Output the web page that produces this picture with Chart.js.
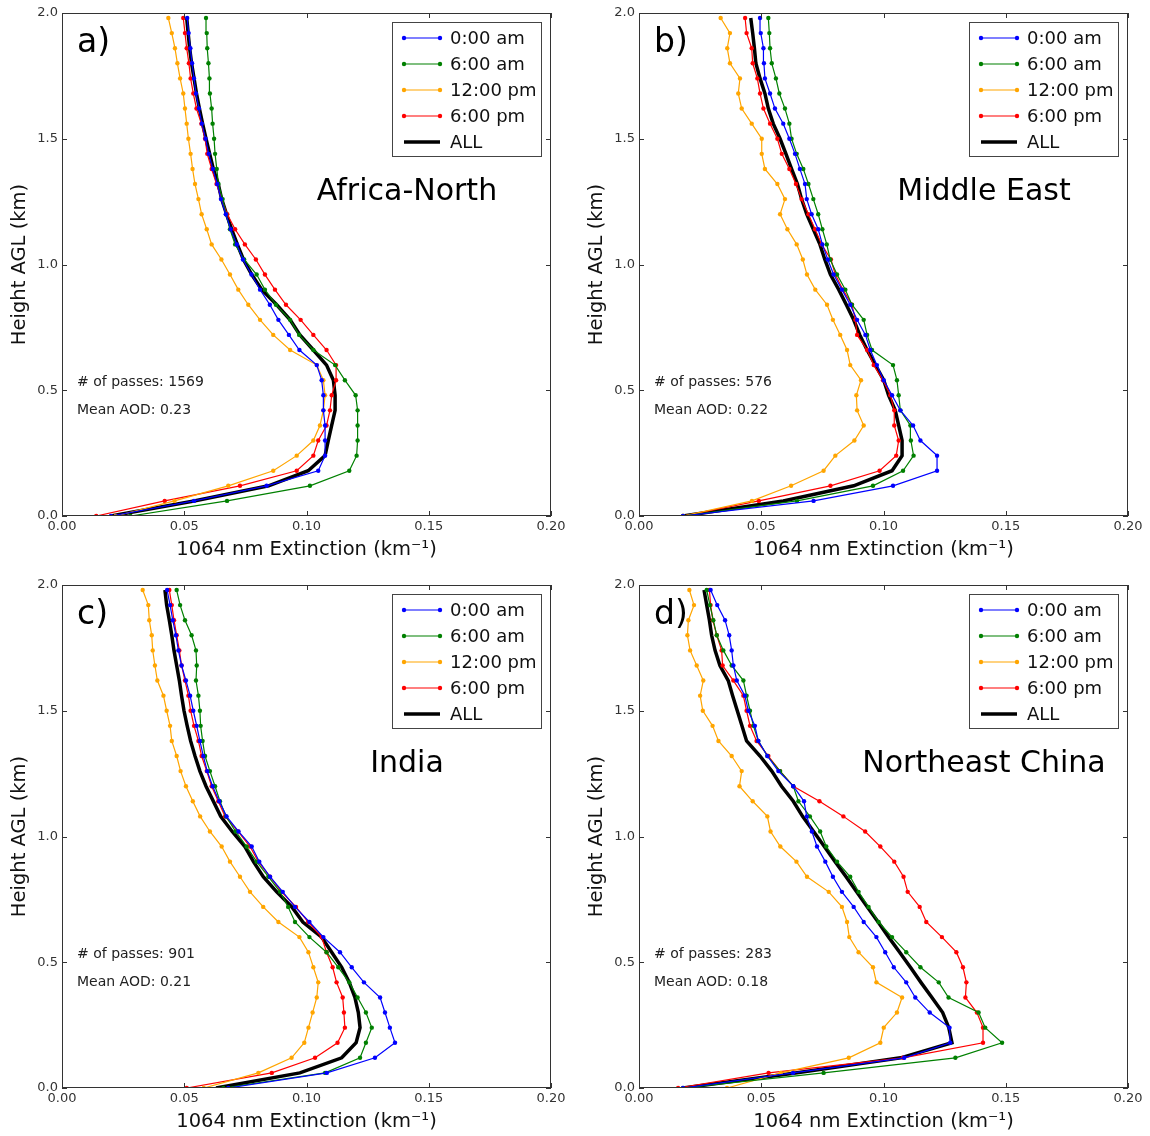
<!DOCTYPE html>
<html>
<head>
<meta charset="utf-8">
<script src="https://cdn.jsdelivr.net/npm/chart.js@4.4.0/dist/chart.umd.min.js"></script>
<style>
  body { margin: 0; background: #fff; width: 1150px; height: 1136px; overflow: hidden; position: relative; }
  canvas { position: absolute; }
</style>
</head>
<body>
<canvas id="pa" width="575" height="564" style="left:0;top:0"></canvas>
<canvas id="pb" width="575" height="564" style="left:577px;top:0"></canvas>
<canvas id="pc" width="575" height="564" style="left:0;top:572px"></canvas>
<canvas id="pd" width="575" height="564" style="left:577px;top:572px"></canvas>
<script>
// height bins (km AGL)
const heights = [0.00, 0.06, 0.12, 0.18, 0.24, 0.30, 0.36, 0.42, 0.48, 0.54, 0.60, 0.66, 0.72, 0.78, 0.84, 0.90, 0.96,
  1.02, 1.08, 1.14, 1.20, 1.26, 1.32, 1.38, 1.44, 1.50, 1.56, 1.62, 1.68, 1.74, 1.80, 1.86, 1.92, 1.98];

const seriesLabels = ['0:00 am', '6:00 am', '12:00 pm', '6:00 pm', 'ALL'];
const panelLetters = ['a)', 'b)', 'c)', 'd)'];
const regionNames = ['Africa-North', 'Middle East', 'India', 'Northeast China'];
const passCounts = [1569, 576, 901, 283];
const meanAod = ['0.23', '0.22', '0.21', '0.18'];

// a) Africa-North, extinction (km-1) per height bin
const africa0am = [0.020, 0.054, 0.0837, 0.1048, 0.1076, 0.1076, 0.1076, 0.1069, 0.1069, 0.1062, 0.1042, 0.0971, 0.0928, 0.0885, 0.085, 0.081, 0.0775,
  0.074, 0.0715, 0.069, 0.067, 0.065, 0.0635, 0.0617, 0.060, 0.0587, 0.0572, 0.056, 0.0548, 0.054, 0.0532, 0.0525, 0.0518, 0.0512];
const africa6am = [0.028, 0.0675, 0.1014, 0.1175, 0.1205, 0.1209, 0.1209, 0.1209, 0.1201, 0.1157, 0.1117, 0.1028, 0.097, 0.0933, 0.0875, 0.083, 0.0796,
  0.0745, 0.0708, 0.0687, 0.0671, 0.0657, 0.064, 0.0633, 0.0626, 0.0622, 0.0616, 0.0612, 0.0605, 0.0603, 0.0599, 0.0594, 0.0592, 0.0589];
const africa12pm = [0.022, 0.046, 0.068, 0.0864, 0.096, 0.1028, 0.1055, 0.1069, 0.1076, 0.1069, 0.1042, 0.0933, 0.0864, 0.081, 0.0762, 0.0721, 0.0687,
  0.0652, 0.0612, 0.0592, 0.0571, 0.0558, 0.0544, 0.0534, 0.0526, 0.0517, 0.051, 0.0503, 0.0496, 0.0483, 0.0472, 0.0462, 0.0449, 0.0435];
const africa6pm = [0.014, 0.042, 0.0728, 0.096, 0.1028, 0.1048, 0.1082, 0.1096, 0.1103, 0.1121, 0.1121, 0.1082, 0.1028, 0.0976, 0.0916, 0.0871, 0.083,
  0.0793, 0.0748, 0.0708, 0.0676, 0.0653, 0.0632, 0.0612, 0.0594, 0.0585, 0.057, 0.055, 0.0537, 0.0526, 0.0519, 0.051, 0.0503, 0.0496];
const africaAll = [0.020, 0.054, 0.0845, 0.1007, 0.1076, 0.1089, 0.1103, 0.1117, 0.1117, 0.111, 0.1082, 0.1028, 0.0973, 0.0933, 0.0878, 0.0817, 0.0776,
  0.0742, 0.0717, 0.0694, 0.0673, 0.0653, 0.0639, 0.0619, 0.0604, 0.0589, 0.0575, 0.0562, 0.055, 0.054, 0.053, 0.0522, 0.0516, 0.051];

// b) Middle East
const mideast0am = [0.018, 0.0714, 0.1039, 0.1219, 0.1219, 0.1151, 0.1121, 0.1069, 0.1035, 0.1001, 0.0973, 0.0946, 0.0926, 0.0892, 0.0864, 0.083, 0.0796,
  0.0772, 0.075, 0.0733, 0.0706, 0.0686, 0.0679, 0.0658, 0.0638, 0.0615, 0.059, 0.0556, 0.0536, 0.0515, 0.0511, 0.0509, 0.0498, 0.0495];
const mideast6am = [0.018, 0.0646, 0.0957, 0.108, 0.1123, 0.1112, 0.111, 0.1069, 0.1062, 0.1055, 0.1039, 0.0953, 0.0933, 0.0919, 0.0871, 0.0844, 0.081,
  0.0782, 0.0768, 0.075, 0.0733, 0.0713, 0.0693, 0.0672, 0.0645, 0.0624, 0.0615, 0.0597, 0.0574, 0.056, 0.0543, 0.0536, 0.0533, 0.0529];
const mideast12pm = [0.018, 0.0462, 0.0622, 0.0755, 0.0803, 0.0881, 0.0919, 0.0892, 0.0889, 0.0908, 0.0864, 0.0851, 0.0823, 0.0793, 0.0769, 0.0721, 0.0687,
  0.067, 0.0645, 0.0607, 0.0577, 0.0597, 0.0566, 0.0515, 0.0502, 0.0502, 0.0461, 0.042, 0.0406, 0.0413, 0.0372, 0.0361, 0.0372, 0.0334];
const mideast6pm = [0.018, 0.049, 0.0783, 0.0984, 0.1052, 0.1062, 0.1044, 0.1044, 0.1028, 0.0998, 0.096, 0.0933, 0.0892, 0.0885, 0.0871, 0.0834, 0.0803,
  0.0785, 0.0747, 0.072, 0.0693, 0.0665, 0.0642, 0.0615, 0.0584, 0.0566, 0.0536, 0.0509, 0.0495, 0.0484, 0.0465, 0.0461, 0.044, 0.0434];
const mideastAll = [0.018, 0.059, 0.0878, 0.1035, 0.1076, 0.1076, 0.1062, 0.1048, 0.1021, 0.1001, 0.0967, 0.0933, 0.0903, 0.0878, 0.0848, 0.0817, 0.0783,
  0.076, 0.074, 0.0713, 0.0686, 0.0665, 0.0648, 0.0624, 0.0601, 0.0577, 0.0549, 0.0529, 0.0515, 0.0495, 0.0478, 0.0472, 0.0465, 0.0457];

// c) India
const india0am = [0.068, 0.1083, 0.128, 0.1362, 0.1341, 0.1321, 0.1301, 0.1235, 0.1185, 0.1137, 0.1069, 0.1012, 0.0953, 0.0903, 0.0851, 0.0807, 0.0776,
  0.0722, 0.0673, 0.0643, 0.0616, 0.0594, 0.0578, 0.0564, 0.0551, 0.0537, 0.0524, 0.0507, 0.0489, 0.0476, 0.0466, 0.0453, 0.0442, 0.043];
const india6am = [0.066, 0.1076, 0.1219, 0.1243, 0.1267, 0.1243, 0.1209, 0.1175, 0.113, 0.1082, 0.1012, 0.0953, 0.0925, 0.0892, 0.0844, 0.0796, 0.0755,
  0.071, 0.0671, 0.0646, 0.0626, 0.0605, 0.0585, 0.0575, 0.0567, 0.0564, 0.0558, 0.0548, 0.0551, 0.0548, 0.053, 0.0503, 0.0483, 0.0469];
const india12pm = [0.058, 0.0803, 0.0939, 0.0991, 0.1008, 0.1025, 0.1042, 0.1048, 0.1028, 0.1008, 0.0971, 0.0885, 0.0823, 0.0769, 0.0728, 0.0687, 0.0653,
  0.0605, 0.0565, 0.0535, 0.0507, 0.0485, 0.0469, 0.0449, 0.0442, 0.0428, 0.0415, 0.039, 0.038, 0.0371, 0.0367, 0.0357, 0.0353, 0.033];
const india6pm = [0.051, 0.0858, 0.1035, 0.1127, 0.1157, 0.1153, 0.1148, 0.1123, 0.1107, 0.1082, 0.1062, 0.1007, 0.0957, 0.0898, 0.0851, 0.0803, 0.0769,
  0.072, 0.0667, 0.0639, 0.0612, 0.0592, 0.0571, 0.0558, 0.054, 0.0526, 0.0517, 0.0503, 0.0489, 0.048, 0.0469, 0.0458, 0.0449, 0.0439];
const indiaAll = [0.063, 0.0973, 0.1144, 0.1203, 0.1219, 0.1212, 0.1198, 0.1175, 0.1144, 0.1103, 0.1062, 0.0985, 0.094, 0.0878, 0.0823, 0.0783, 0.0748,
  0.0696, 0.0649, 0.0619, 0.0589, 0.0564, 0.0544, 0.0526, 0.0512, 0.0499, 0.0489, 0.048, 0.0469, 0.0458, 0.0449, 0.0439, 0.0428, 0.0421];

// d) Northeast China
const china0am = [0.018, 0.063, 0.1085, 0.1273, 0.127, 0.1189, 0.113, 0.1093, 0.1042, 0.1007, 0.0971, 0.0919, 0.0878, 0.083, 0.0793, 0.0762, 0.0728,
  0.0707, 0.0686, 0.0675, 0.0631, 0.057, 0.0525, 0.0488, 0.0474, 0.0447, 0.0433, 0.040, 0.0386, 0.0379, 0.0369, 0.0352, 0.032, 0.0293];
const china6am = [0.018, 0.0755, 0.1294, 0.1485, 0.1416, 0.1389, 0.1266, 0.1226, 0.1151, 0.1093, 0.1035, 0.098, 0.0939, 0.0898, 0.0864, 0.081, 0.0766,
  0.0741, 0.0699, 0.0652, 0.0631, 0.0577, 0.0525, 0.0488, 0.0468, 0.0454, 0.044, 0.0427, 0.0379, 0.0345, 0.0318, 0.0304, 0.029, 0.0277];
const china12pm = [0.036, 0.058, 0.0858, 0.0987, 0.1001, 0.1055, 0.1076, 0.0971, 0.0957, 0.0898, 0.086, 0.0851, 0.083, 0.0776, 0.0687, 0.0644, 0.0578,
  0.0538, 0.0525, 0.0465, 0.0411, 0.042, 0.0379, 0.0325, 0.0301, 0.0261, 0.025, 0.0263, 0.0236, 0.0209, 0.0198, 0.0202, 0.0225, 0.0206];
const china6pm = [0.016, 0.053, 0.108, 0.1407, 0.1407, 0.1382, 0.1335, 0.1339, 0.1325, 0.1298, 0.1239, 0.1175, 0.1148, 0.1099, 0.1082, 0.1044, 0.0987,
  0.0925, 0.0836, 0.0738, 0.0631, 0.0577, 0.0529, 0.0481, 0.0454, 0.044, 0.0427, 0.0386, 0.0342, 0.0338, 0.0318, 0.0302, 0.0293, 0.0288];
const chinaAll = [0.018, 0.064, 0.107, 0.128, 0.1267, 0.1242, 0.1198, 0.1153, 0.111, 0.1066, 0.1021, 0.0978, 0.0934, 0.089, 0.0847, 0.0802, 0.0758,
  0.0714, 0.0669, 0.0631, 0.0583, 0.0543, 0.0495, 0.044, 0.0421, 0.0402, 0.0383, 0.0365, 0.0331, 0.0311, 0.0297, 0.0288, 0.0277, 0.0266];

const xTicks = ['0.00', '0.05', '0.10', '0.15', '0.20'];
const yTicks = ['0.0', '0.5', '1.0', '1.5', '2.0'];

const colors = ['#0000ff', '#008000', '#ffa500', '#ff0000', '#000000'];
const FONT = '"DejaVu Sans", sans-serif';

const panelData = [
  [africa0am, africa6am, africa12pm, africa6pm, africaAll],
  [mideast0am, mideast6am, mideast12pm, mideast6pm, mideastAll],
  [india0am, india6am, india12pm, india6pm, indiaAll],
  [china0am, china6am, china12pm, china6pm, chinaAll]
];

// frame, inward ticks, labels and legend drawn on top of the plot
const panelDecor = {
  id: 'panelDecor',
  afterDatasetsDraw(chart, args, opts) {
    const { ctx, chartArea: a, scales: { x, y } } = chart;
    ctx.save();
    ctx.strokeStyle = '#333';
    ctx.lineWidth = 1;
    ctx.strokeRect(a.left + 0.5, a.top + 0.5, a.width - 1, a.height - 1);
    ctx.beginPath();
    x.ticks.forEach(t => {
      const px = Math.round(x.getPixelForValue(t.value)) + 0.5;
      ctx.moveTo(px, a.bottom); ctx.lineTo(px, a.bottom - 5);
      ctx.moveTo(px, a.top); ctx.lineTo(px, a.top + 5);
    });
    y.ticks.forEach(t => {
      const py = Math.round(y.getPixelForValue(t.value)) + 0.5;
      ctx.moveTo(a.left, py); ctx.lineTo(a.left + 5, py);
      ctx.moveTo(a.right, py); ctx.lineTo(a.right - 5, py);
    });
    ctx.stroke();

    // panel letter and region name
    ctx.fillStyle = '#000';
    ctx.textBaseline = 'middle';
    ctx.textAlign = 'left';
    ctx.font = '33px ' + FONT;
    ctx.fillText(opts.letter, a.left + 15, a.top + 30);
    ctx.textAlign = 'center';
    ctx.font = '30px ' + FONT;
    ctx.fillText(opts.region, a.left + 345, a.top + 179);
    ctx.textAlign = 'left';
    ctx.font = '14px ' + FONT;
    ctx.fillStyle = '#222';
    ctx.fillText('# of passes: ' + opts.passes, a.left + 15, a.top + 369);
    ctx.fillText('Mean AOD: ' + opts.aod, a.left + 15, a.top + 397);

    // legend
    const bx = a.right - 159, by = a.top + 9;
    ctx.fillStyle = '#fff';
    ctx.fillRect(bx, by, 149, 134);
    ctx.strokeStyle = '#444';
    ctx.strokeRect(bx + 0.5, by + 0.5, 149, 134);
    chart.data.datasets.forEach((ds, i) => {
      const ly = by + 16 + 26 * i;
      const x0 = a.right - 147, x1 = a.right - 111;
      ctx.strokeStyle = ds.borderColor;
      ctx.lineWidth = ds.borderWidth;
      ctx.beginPath(); ctx.moveTo(x0, ly); ctx.lineTo(x1, ly); ctx.stroke();
      if (ds.pointRadius > 0) {
        ctx.fillStyle = ds.borderColor;
        [x0, x1].forEach(px => { ctx.beginPath(); ctx.arc(px, ly, 2.2, 0, Math.PI * 2); ctx.fill(); });
      }
      ctx.fillStyle = '#111';
      ctx.font = '18px ' + FONT;
      ctx.fillText(ds.label, a.right - 101, ly + 1);
    });
    ctx.restore();
  }
};

function makePanel(id, p) {
  const datasets = panelData[p].map((vals, s) => ({
    label: seriesLabels[s],
    data: vals.map((v, i) => ({ x: v, y: heights[i] })),
    borderColor: colors[s],
    backgroundColor: colors[s],
    borderWidth: s === 4 ? 3.5 : 1.2,
    pointRadius: s === 4 ? 0 : 2.2,
    pointBorderWidth: 0,
    tension: 0
  }));
  new Chart(document.getElementById(id), {
    type: 'line',
    data: { datasets },
    plugins: [panelDecor],
    options: {
      responsive: false,
      animation: false,
      layout: { padding: { top: 13, right: 24, left: 0, bottom: 0 } },
      plugins: {
        legend: { display: false },
        tooltip: { enabled: false },
        panelDecor: { letter: panelLetters[p], region: regionNames[p], passes: passCounts[p], aod: meanAod[p] }
      },
      scales: {
        x: {
          type: 'linear', min: 0, max: 0.2,
          grid: { display: false, drawTicks: false },
          border: { display: false },
          afterFit: s => { s.height = 48; },
          afterBuildTicks: s => { s.ticks = xTicks.map(v => ({ value: parseFloat(v) })); },
          ticks: { padding: 3, color: '#333', font: { family: FONT, size: 13 }, maxRotation: 0,
                   callback: (v, i) => xTicks[i] },
          title: { display: true, text: '1064 nm Extinction (km\u207B\u00B9)', color: '#111',
                   font: { family: FONT, size: 19.5 }, padding: { top: 0, bottom: 2 } }
        },
        y: {
          type: 'linear', min: 0, max: 2,
          grid: { display: false, drawTicks: false },
          border: { display: false },
          afterFit: s => { s.width = 62; },
          afterBuildTicks: s => { s.ticks = yTicks.map(v => ({ value: parseFloat(v) })); },
          ticks: { padding: 4, color: '#333', font: { family: FONT, size: 13 },
                   callback: (v, i) => yTicks[i] },
          title: { display: true, text: 'Height AGL (km)', color: '#111',
                   font: { family: FONT, size: 19.5 }, padding: { top: 8, bottom: 0 } }
        }
      }
    }
  });
}

makePanel('pa', 0);
makePanel('pb', 1);
makePanel('pc', 2);
makePanel('pd', 3);
</script>
</body>
</html>
